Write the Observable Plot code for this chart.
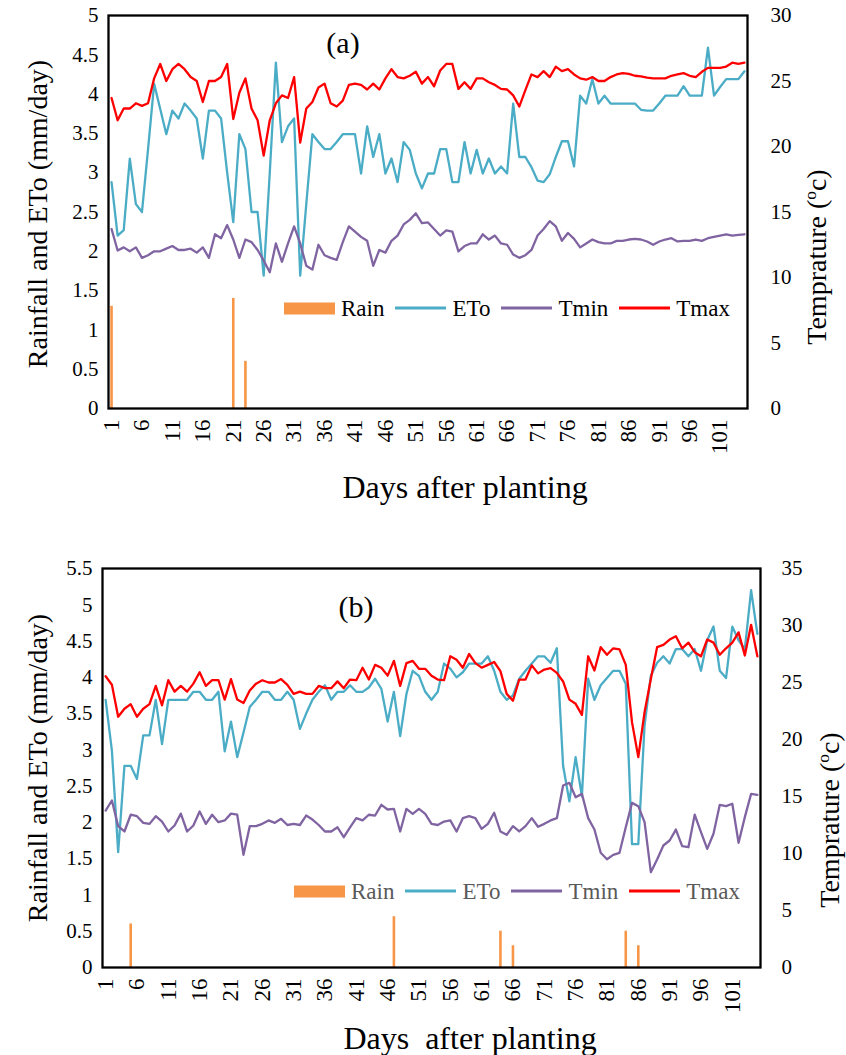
<!DOCTYPE html>
<html><head><meta charset="utf-8">
<script src="https://cdn.jsdelivr.net/npm/d3@7"></script>
<script src="https://cdn.jsdelivr.net/npm/@observablehq/plot@0.6"></script>
<style>
html,body{margin:0;padding:0;background:#fff;}
#root{position:relative;width:846px;height:1055px;overflow:hidden;font-family:"Liberation Serif","Times New Roman",serif;color:#000;}
#root svg{display:block;}
.t{position:absolute;white-space:pre;line-height:1;transform:translate(-50%,-50%);}
.rot{transform:translate(-50%,-50%) rotate(-90deg);}
.legend{position:absolute;display:flex;align-items:center;white-space:nowrap;line-height:1;transform:translateY(-50%);}
.legend .sw{display:inline-block;}
sup{font-size:0.62em;vertical-align:0.55em;line-height:0;}
</style></head><body><div id="root"></div>
<script>
const days = d3.range(1, 106);
const xTicks = [1,6,11,16,21,26,31,36,41,46,51,56,61,66,71,76,81,86,91,96,101];
const seriesNames = ["Rain","ETo","Tmin","Tmax"];
const seriesColors = ["#F79646","#4BACC6","#8064A2","#FF0000"];
const yTitle = "Rainfall and ETo (mm/day)";
const tTitle = "Temprature (";
const xTitleA = "Days after planting";
const xTitleB = "Days  after planting";

// ---- panel (a)
const rainDaysA = [1,21,23];
const rainA = [1.3,1.4,0.6];
const etoA = [2.88,2.2,2.27,3.18,2.6,2.5,3.3,4.13,3.81,3.49,
 3.79,3.69,3.88,3.79,3.69,3.18,3.79,3.79,3.69,3.0,
 2.37,3.49,3.3,2.5,2.5,1.69,3.0,4.4,3.39,3.59,
 3.69,1.69,2.6,3.49,3.39,3.30,3.30,3.39,3.49,3.49,
 3.49,2.99,3.59,3.20,3.49,2.99,3.18,2.88,3.39,3.29,
 2.99,2.80,2.99,2.99,3.30,3.30,2.88,2.88,3.39,2.99,
 3.29,2.99,3.18,2.99,3.08,2.99,3.88,3.20,3.20,3.07,
 2.9,2.88,2.98,3.2,3.40,3.40,3.08,3.98,3.88,4.19,
 3.88,3.98,3.88,3.88,3.88,3.88,3.88,3.80,3.79,3.79,
 3.88,3.98,3.98,3.98,4.10,3.98,3.98,3.98,4.59,3.98,
 4.09,4.19,4.19,4.19,4.29];
const tmaxA = [23.7,22.0,22.9,22.9,23.3,23.1,23.3,25.2,26.3,25.0,
 25.9,26.3,25.9,25.3,25.0,23.4,25.0,25.0,25.3,26.3,
 22.1,24.1,25.2,22.9,22.0,19.3,22.0,23.3,23.9,23.7,
 25.3,20.3,22.9,23.4,24.5,24.8,23.3,23.05,23.5,24.7,
 24.8,24.7,24.35,24.8,24.35,25.2,25.9,25.3,25.2,25.4,
 25.7,24.8,25.3,24.6,25.8,26.3,26.3,24.4,24.9,24.4,
 25.2,25.2,24.9,24.7,24.4,24.35,23.9,23.05,24.3,25.5,
 25.3,25.75,25.3,26.1,25.75,25.9,25.5,25.2,25.1,25.3,
 25.0,25.0,25.3,25.5,25.6,25.55,25.4,25.35,25.25,25.2,
 25.2,25.2,25.4,25.5,25.6,25.4,25.3,25.7,26.0,26.0,
 26.0,26.1,26.4,26.3,26.4];
const tminA = [13.7,12.06,12.3,12.0,12.3,11.5,11.7,12.0,12.0,12.2,
 12.4,12.1,12.1,12.2,11.9,12.3,11.5,13.3,13.0,14.0,
 12.9,11.5,12.9,12.7,12.1,11.3,10.4,12.6,11.2,12.6,
 13.9,12.6,10.9,10.6,12.5,11.7,11.5,11.35,12.7,13.9,
 13.5,13.1,12.8,10.9,12.1,11.9,12.8,13.2,14.05,14.4,
 14.9,14.15,14.2,13.7,13.2,13.6,13.5,12.0,12.4,12.6,
 12.6,13.3,12.9,13.2,12.6,12.5,11.75,11.5,11.7,12.1,
 13.2,13.7,14.3,13.9,12.8,13.4,12.95,12.3,12.6,12.9,
 12.7,12.6,12.6,12.8,12.8,12.9,12.95,12.9,12.75,12.5,
 12.75,12.9,13.0,12.75,12.8,12.8,12.9,12.8,13.0,13.1,
 13.2,13.3,13.2,13.25,13.3];
const leftTicksA = [0,0.5,1,1.5,2,2.5,3,3.5,4,4.5,5];
const rightTicksA = [0,5,10,15,20,25,30];

// ---- panel (b)
const rainDaysB = [5,47,64,66,84,86];
const rainB = [0.6,0.7,0.5,0.3,0.5,0.3];
const etoB = [3.69,2.99,1.59,2.78,2.78,2.6,3.2,3.2,3.69,3.08,
 3.69,3.69,3.69,3.69,3.8,3.8,3.69,3.69,3.8,2.98,
 3.39,2.9,3.24,3.59,3.69,3.8,3.8,3.69,3.69,3.8,
 3.69,3.29,3.5,3.69,3.8,3.89,3.69,3.80,3.80,3.89,
 3.80,3.80,3.86,3.98,3.84,3.39,3.80,3.19,3.77,4.09,
 4.02,3.80,3.69,3.80,4.19,4.12,4.0,4.07,4.19,4.19,
 4.19,4.29,4.09,3.80,3.69,3.75,3.98,4.09,4.19,4.29,
 4.29,4.2,4.4,2.78,2.29,2.9,2.36,3.98,3.69,3.89,
 3.99,4.09,4.09,3.91,1.70,1.70,3.34,4.02,4.2,4.29,
 4.19,4.39,4.39,4.29,4.39,4.09,4.51,4.7,4.09,3.99,
 4.7,4.51,4.39,5.2,4.6];
const tmaxB = [25.55,24.8,22.0,22.7,23.1,22.0,22.7,23.1,24.7,23.0,
 25.2,24.2,24.7,24.2,24.9,25.9,24.7,25.2,25.2,23.5,
 25.3,23.5,23.2,24.3,24.9,25.2,25.0,25.0,25.3,24.8,
 24.0,24.2,24.0,24.0,24.7,24.5,24.5,25.1,24.5,25.26,
 25.2,26.3,25.26,26.55,26.3,25.6,26.9,24.7,26.7,26.9,
 26.2,26.2,25.6,25.26,25.2,27.3,27.0,26.3,27.5,26.7,
 26.3,26.55,26.8,26.0,24.0,23.4,25.26,25.26,26.5,25.8,
 26.14,26.26,25.85,25.09,23.5,23.13,22.16,27.3,26.05,28.1,
 27.43,28.0,27.9,26.55,21.5,18.45,22.4,25.3,28.1,28.3,
 28.77,29.06,28.0,28.5,27.66,27.3,28.77,28.5,27.43,28.0,
 28.5,29.4,27.37,30.06,27.3];
const tminB = [13.77,14.65,12.4,11.93,13.4,13.27,12.69,12.6,13.27,12.8,
 11.93,12.46,13.5,11.93,12.46,13.68,12.6,13.4,12.75,12.9,
 13.5,13.4,9.88,12.4,12.4,12.6,12.9,12.69,13.04,12.5,
 12.6,12.5,13.33,12.98,12.5,11.93,11.93,12.3,11.43,12.3,
 13.1,12.9,13.4,13.33,14.27,13.86,13.92,11.93,13.92,13.48,
 13.92,13.48,12.6,12.5,12.8,12.9,11.93,13.1,13.27,13.1,
 12.16,12.6,13.57,11.93,11.64,12.4,11.93,12.4,13.1,12.35,
 12.6,12.9,13.1,15.96,16.2,14.94,15.23,13.1,12.1,10.06,
 9.5,9.88,10.06,12.3,14.44,14.15,12.75,8.36,9.47,10.7,
 11.14,12.1,10.64,10.55,13.4,11.87,10.41,11.73,14.27,14.15,
 14.36,10.94,13.19,15.23,15.15];
const leftTicksB = [0,0.5,1,1.5,2,2.5,3,3.5,4,4.5,5,5.5];
const rightTicksB = [0,5,10,15,20,25,30,35];

function panel({eto, tmin, tmax, rainDays, rain, leftTicks, rightTicks, height, margins, rightPad, leftPad}) {
  const leftMax = leftTicks[leftTicks.length - 1];
  const rightMax = rightTicks[rightTicks.length - 1];
  const k = leftMax / rightMax;
  const rows = days.map((d, i) => ({day: d, eto: eto[i], tmin: tmin[i] * k, tmax: tmax[i] * k}));
  const bars = rainDays.map((d, i) => ({day: d, rain: rain[i]}));
  return Plot.plot({
    width: 846, height, ...margins,
    style: {fontFamily: '"Liberation Serif", "Times New Roman", serif', fontSize: "21px", color: "#000", background: "transparent", overflow: "visible"},
    x: {domain: [0.5, 105.5]},
    y: {domain: [0, leftMax]},
    marks: [
      Plot.ruleX(bars, {x: "day", y1: 0, y2: "rain", stroke: seriesColors[0], strokeWidth: 2.6}),
      Plot.lineY(rows, {x: "day", y: "eto", stroke: seriesColors[1], strokeWidth: 2.3}),
      Plot.lineY(rows, {x: "day", y: "tmin", stroke: seriesColors[2], strokeWidth: 2.3}),
      Plot.lineY(rows, {x: "day", y: "tmax", stroke: seriesColors[3], strokeWidth: 2.3}),
      Plot.axisX({ticks: xTicks, tickSize: 0, tickPadding: 11, tickRotate: -90, label: null, fontSize: 23}),
      Plot.axisY({ticks: leftTicks, tickSize: 0, tickPadding: leftPad, label: null, tickFormat: d => String(d)}),
      Plot.axisY(rightTicks.map(t => t * k), {anchor: "right", tickSize: 0, tickPadding: rightPad, label: null, tickFormat: d => String(Math.round(d / k))}),
      Plot.frame({stroke: "#000", strokeWidth: 2.3})
    ]
  });
}

const root = document.getElementById("root");
root.append(panel({eto: etoA, tmin: tminA, tmax: tmaxA, rainDays: rainDaysA, rain: rainA,
  leftTicks: leftTicksA, rightTicks: rightTicksA, height: 520,
  margins: {marginTop: 15, marginBottom: 112, marginLeft: 108, marginRight: 99}, rightPad: 23, leftPad: 10}));
root.append(panel({eto: etoB, tmin: tminB, tmax: tmaxB, rainDays: rainDaysB, rain: rainB,
  leftTicks: leftTicksB, rightTicks: rightTicksB, height: 535,
  margins: {marginTop: 48, marginBottom: 88, marginLeft: 102, marginRight: 86}, rightPad: 21, leftPad: 10}));

function addText(html, x, y, size, cls, color) {
  const el = document.createElement("div");
  el.className = "t" + (cls ? " " + cls : "");
  el.style.left = x + "px"; el.style.top = y + "px";
  el.style.fontSize = size + "px";
  if (color) el.style.color = color;
  el.innerHTML = html;
  root.append(el);
}
function addLegend(x, y, color) {
  const div = document.createElement("div");
  div.className = "legend";
  div.style.left = x + "px"; div.style.top = y + "px";
  div.style.color = color; div.style.fontSize = "23px";
  seriesNames.forEach((name, i) => {
    const sw = document.createElement("span");
    sw.className = "sw";
    sw.style.width = "51px";
    sw.style.height = (i === 0 ? 12 : 2.6) + "px";
    sw.style.background = seriesColors[i];
    sw.style.marginLeft = (i === 0 ? 0 : 11) + "px";
    const tx = document.createElement("span");
    tx.textContent = name;
    tx.style.marginLeft = "6px";
    div.append(sw, tx);
  });
  root.append(div);
}
const tTitleHtml = tTitle + "<sup>o</sup>c)";
// panel (a) texts
addText("(a)", 343, 43, 30);
addText(xTitleA, 465, 487, 32);
addText(yTitle, 38, 214, 28, "rot");
addText(tTitleHtml, 817, 257, 28, "rot");
addLegend(284, 308, "#000");
// panel (b) texts
addText("(b)", 356, 607, 30);
addText(xTitleB, 470, 1038, 32);
addText(yTitle, 38, 768, 28, "rot");
addText(tTitleHtml, 830, 820, 28, "rot");
addLegend(294, 891, "#595959");
</script></body></html>
